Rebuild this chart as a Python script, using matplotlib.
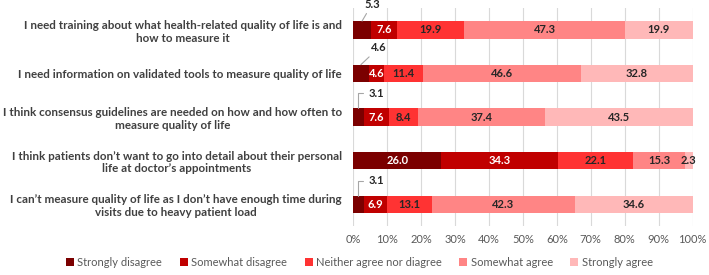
import numpy as np
import matplotlib
matplotlib.use("Agg")
import matplotlib.pyplot as plt

plt.rcParams["font.family"] = ["Lato", "DejaVu Sans"]

statements = [
    "I need training about what health-related quality of life is and\nhow to measure it",
    "I need information on validated tools to measure quality of life",
    "I think consensus guidelines are needed on how and how often to\nmeasure quality of life",
    "I think patients don\u2019t want to go into detail about their personal\nlife at doctor\u2019s appointments",
    "I can\u2019t measure quality of life as I don\u2019t have enough time during\nvisits due to heavy patient load",
]
responses = ["Strongly disagree", "Somewhat disagree", "Neither agree nor diagree",
             "Somewhat agree", "Strongly agree"]
strongly_disagree = [5.3, 4.6, 3.1, 26.0, 3.1]
somewhat_disagree = [7.6, 4.6, 7.6, 34.3, 6.9]
neither = [19.9, 11.4, 8.4, 22.1, 13.1]
somewhat_agree = [47.3, 46.6, 37.4, 15.3, 42.3]
strongly_agree = [19.9, 32.8, 43.5, 2.3, 34.6]

colors = ["#7b0000", "#c00000", "#ff3333", "#ff8585", "#ffb8b8"]
label_colors = ["white", "white", "#262626", "#262626", "#262626"]

series = [strongly_disagree, somewhat_disagree, neither, somewhat_agree, strongly_agree]

fig = plt.figure(figsize=(7.09, 2.75), dpi=100)
ax = fig.add_axes([0.498, 0.178, 0.479, 0.793])

y = np.arange(len(statements))
left = np.zeros(len(statements))
for k, (vals, name, col, lcol) in enumerate(zip(series, responses, colors, label_colors)):
    vals = np.array(vals)
    ax.barh(y, vals, left=left, height=0.4, color=col, label=name, zorder=2)
    for i, v in enumerate(vals):
        cx = left[i] + v / 2
        if k == 0 and v < 6:
            # small slice: label above the bar with a leader line
            if v > 4:
                dx = 10 if v > 5 else 18
                ax.annotate(f"{v:.1f}", xy=(cx, y[i] - 0.2), xytext=(dx, 17),
                            textcoords="offset pixels", ha="center", va="center",
                            fontsize=8, fontweight="bold", color="#262626",
                            arrowprops=dict(arrowstyle="-", color="#a6a6a6", lw=0.8,
                                            shrinkA=1, shrinkB=0))
            else:
                ax.annotate(f"{v:.1f}", xy=(cx, y[i] - 0.2), xytext=(18, 15),
                            textcoords="offset pixels", ha="center", va="center",
                            fontsize=8, fontweight="bold", color="#262626",
                            arrowprops=dict(arrowstyle="-", color="#a6a6a6", lw=0.8,
                                            shrinkA=2, shrinkB=0,
                                            connectionstyle="angle,angleA=0,angleB=90,rad=0"))
        else:
            ax.text(cx, y[i], f"{v:.1f}", ha="center", va="center", fontsize=8,
                    fontweight="bold", color=lcol, zorder=3)
    left += vals

ax.set_xlim(0, 100)
ax.set_ylim(len(statements) - 0.5, -0.5)
ax.set_xticks(np.arange(0, 101, 10))
ax.set_xticklabels([f"{t}%" for t in range(0, 101, 10)])
ax.set_yticks(y)
ax.set_yticklabels(statements, fontsize=8.4, fontweight="bold", color="#404040",
                   multialignment="center")
ax.tick_params(axis="y", length=0, pad=8)
ax.tick_params(axis="x", length=0, labelsize=8, labelcolor="#595959", pad=6)
ax.grid(axis="x", color="#d9d9d9", lw=0.8, zorder=0)
for s in ax.spines.values():
    s.set_visible(False)

fig.legend(loc="lower center", bbox_to_anchor=(0.507, -0.01), ncol=5, frameon=False,
           fontsize=8, labelcolor="#595959", handlelength=0.7, handleheight=0.7,
           handletextpad=0.3, columnspacing=1.6)

fig.savefig("out.png", dpi=100)
